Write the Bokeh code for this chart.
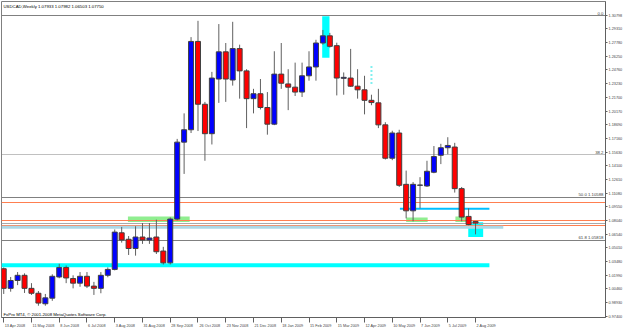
from bokeh.plotting import figure
from bokeh.models import ColumnDataSource, Range1d, FixedTicker, Label, PrintfTickFormatter
from bokeh.embed import file_html
from bokeh.resources import INLINE

chart_title = "USDCAD,Weekly  1.07933 1.07982 1.06503 1.07750"
copyright_note = "FxPro MT4, \u00a9 2001-2008 MetaQuotes Software Corp."

opens = [1.02691, 1.00515, 1.01386, 1.01962, 1.00515, 0.99971, 0.98807, 0.99427, 1.01777, 1.02833,
         1.01603, 1.01092, 1.01853, 1.00765, 1.00515, 1.01962, 1.02615, 1.06674, 1.05956, 1.04933,
         1.06206, 1.05880, 1.06206, 1.04650, 1.03344, 1.08197, 1.16728, 1.18099, 1.27893, 1.20929,
         1.17664, 1.23725, 1.26739, 1.23616, 1.27098, 1.24628, 1.21549, 1.22093, 1.20569, 1.18720,
         1.24269, 1.23181, 1.22822, 1.22278, 1.24084, 1.25064, 1.27719, 1.28513, 1.27425, 1.23801,
         1.23834, 1.22931, 1.22528, 1.21364, 1.21081, 1.18643, 1.14944, 1.17740, 1.12049, 1.09111,
         1.11940, 1.11864, 1.13388, 1.15270, 1.16108, 1.16184, 1.11571, 1.08491, 1.07933]
highs = [1.02833, 1.01777, 1.02321, 1.02180, 1.01092, 1.00221, 0.99895, 1.02071, 1.03235, 1.03050,
         1.01962, 1.02321, 1.02321, 1.01233, 1.02321, 1.02833, 1.07044, 1.07327, 1.06315, 1.07403,
         1.07762, 1.07762, 1.08132, 1.05118, 1.08382, 1.17087, 1.19917, 1.28371, 1.30178, 1.21190,
         1.24519, 1.29819, 1.27719, 1.30069, 1.27534, 1.24813, 1.22637, 1.23725, 1.22278, 1.26804,
         1.27719, 1.24813, 1.25542, 1.25542, 1.26804, 1.28078, 1.29166, 1.28839, 1.27751, 1.24454,
         1.27066, 1.24813, 1.24084, 1.21984, 1.22637, 1.18937, 1.17990, 1.18099, 1.13573, 1.12300,
         1.12844, 1.14661, 1.16293, 1.16543, 1.17272, 1.16652, 1.11756, 1.09394, 1.07982]
lows = [0.99895, 1.00145, 1.00874, 1.00004, 0.99786, 0.98589, 0.98589, 0.99133, 1.01636, 1.01092,
        1.00515, 1.00689, 1.00548, 0.99786, 0.99971, 1.01745, 1.02506, 1.05586, 1.04215, 1.04139,
        1.05444, 1.05444, 1.04323, 1.03159, 1.03159, 1.08056, 1.13203, 1.17740, 1.17958, 1.14661,
        1.16467, 1.21081, 1.21190, 1.22996, 1.21549, 1.18284, 1.19917, 1.20352, 1.17555, 1.18611,
        1.22637, 1.20276, 1.21843, 1.21734, 1.23540, 1.23540, 1.27534, 1.27207, 1.21908, 1.21984,
        1.22855, 1.21549, 1.19808, 1.20820, 1.18284, 1.14802, 1.14726, 1.11756, 1.08273, 1.07947,
        1.09394, 1.11756, 1.13279, 1.14291, 1.15379, 1.11135, 1.07947, 1.07512, 1.06503]
closes = [1.00515, 1.01386, 1.01962, 1.00515, 0.99971, 0.98883, 0.99460, 1.01853, 1.02833, 1.01668,
          1.01092, 1.01853, 1.00765, 1.00515, 1.01962, 1.02615, 1.06750, 1.05880, 1.04933, 1.06206,
          1.05880, 1.06097, 1.04574, 1.03344, 1.08197, 1.16728, 1.18099, 1.27893, 1.20929, 1.17664,
          1.23834, 1.26739, 1.23725, 1.27098, 1.24628, 1.21549, 1.22093, 1.20569, 1.18720, 1.24269,
          1.23257, 1.22822, 1.22278, 1.24084, 1.25064, 1.27719, 1.28513, 1.27349, 1.23834, 1.23910,
          1.22931, 1.22528, 1.21364, 1.21114, 1.18643, 1.14944, 1.17740, 1.11940, 1.09111, 1.12049,
          1.11973, 1.13497, 1.15129, 1.16108, 1.16358, 1.11571, 1.08415, 1.07588, 1.07750]
bars = list(range(len(opens)))

date_tick_bars = list(range(0, 69, 4))
date_tick_labels = ["13 Apr 2008", "11 May 2008", "8 Jun 2008", "6 Jul 2008", "3 Aug 2008",
                    "31 Aug 2008", "28 Sep 2008", "26 Oct 2008", "23 Nov 2008", "21 Dec 2008",
                    "18 Jan 2009", "15 Feb 2009", "15 Mar 2009", "12 Apr 2009", "10 May 2009",
                    "7 Jun 2009", "5 Jul 2009", "2 Aug 2009"]

price_tick_labels = ["1.30798", "1.29310", "1.27780", "1.26250", "1.24760", "1.23230", "1.21700",
                     "1.20170", "1.18690", "1.17160", "1.15630", "1.14100", "1.12610", "1.11080",
                     "1.09550", "1.08040", "1.06540", "1.05010", "1.03480", "1.01990", "1.00460",
                     "0.98930", "0.97400"]
price_ticks = [float(s) for s in price_tick_labels]

fib_prices = [1.30798, 1.15357, 1.10588, 1.05818]
fib_texts = ["0.0", "38.2", "50.0 1.10588", "61.8 1.05818"]
fib_dashes = ["solid", "1 1", "solid", "solid"]

hline_prices = [1.10000, 1.08000, 1.07500]
hline_labels = ["1.10000", "1.08000", "1.07500"]
bid_price = 1.07750

support_price, support_end = 1.03084, 70.0
band_price, band_end = 1.07294, 72.0
blue_line_price, blue_line_start, blue_line_end = 1.09329, 57.1, 70.0

green_left = [17.9, 58.0, 65.1]
green_right = [26.8, 61.1, 66.8]
green_top = [1.08491, 1.08382, 1.08491]
green_bottom = [1.07871, 1.07871, 1.07871]

cyan_left = [45.9, 66.95]
cyan_right = [46.95, 69.1]
cyan_top = [1.30689, 1.07838]
cyan_bottom = [1.26086, 1.06206]

marker_bar, marker_top, marker_bottom = 53, 1.25357, 1.23181

# ---- layout / style ----
BAR_PX = 6.95            # pixels per weekly bar
FRAME_W = 605            # frame width in px
X0 = -0.32
X1 = X0 + FRAME_W / BAR_PX
Y0, Y1 = 0.97283, 1.32321
FONT = "Liberation Sans"
FS = "4.3px"
AXIS_FS = 3.8

CHAR_W = {d: 0.556 for d in "0123456789"}
CHAR_W.update({" ": 0.278, "A": 0.667, "M": 0.833, "J": 0.5, "S": 0.667, "O": 0.778, "N": 0.722,
               "D": 0.722, "F": 0.611, "p": 0.556, "r": 0.333, "a": 0.556, "y": 0.5, "u": 0.556,
               "n": 0.556, "l": 0.222, "g": 0.556, "e": 0.556, "c": 0.5, "o": 0.556, "v": 0.5,
               "b": 0.556})


def text_px(s, size):
    return sum(CHAR_W.get(ch, 0.556) for ch in s) * size


label_pos = [b + (text_px(s, AXIS_FS) / 2 + 1.0) / BAR_PX for b, s in zip(date_tick_bars, date_tick_labels)]

p = figure(width=625, height=330, output_backend="svg", toolbar_location=None,
           x_range=Range1d(X0, X1), y_range=Range1d(Y0, Y1), y_axis_location="right",
           min_border_left=1, min_border_top=1, min_border_right=17, min_border_bottom=7)
p.xgrid.visible = False
p.ygrid.visible = False
p.background_fill_color = "white"
p.border_fill_color = "white"
p.outline_line_color = "#808080"

p.quad(left=green_left, right=green_right, top=green_top, bottom=green_bottom,
       fill_color="#90ee90", line_color=None)
p.quad(left=cyan_left, right=cyan_right, top=cyan_top, bottom=cyan_bottom,
       fill_color="#00ffff", line_color=None)

for pr, dash in zip(fib_prices, fib_dashes):
    p.hspan(y=[pr], line_color="#808080", line_width=1, line_dash=dash)
p.hspan(y=hline_prices, line_color="#ff7f50", line_width=1)
p.hspan(y=[bid_price], line_color="#a9a9a9", line_width=1)

p.segment(x0=[X0], y0=[band_price], x1=[band_end], y1=[band_price], line_color="#add8e6", line_width=3)
p.segment(x0=[X0], y0=[support_price], x1=[support_end], y1=[support_price], line_color="#00ffff", line_width=4)
p.segment(x0=[blue_line_start], y0=[blue_line_price], x1=[blue_line_end], y1=[blue_line_price],
          line_color="#00bfff", line_width=2)
p.segment(x0=[marker_bar], y0=[marker_bottom], x1=[marker_bar], y1=[marker_top],
          line_color="#80f0f0", line_width=2, line_dash="2 2")

src = ColumnDataSource(dict(
    x=bars, o=opens, h=highs, l=lows, c=closes,
    top=[max(o, c) for o, c in zip(opens, closes)],
    bottom=[min(o, c) for o, c in zip(opens, closes)],
    color=["#0000ff" if c >= o else "#ff0000" for o, c in zip(opens, closes)],
))
p.segment(x0="x", y0="l", x1="x", y1="h", source=src, line_color="#606060", line_width=1)
p.vbar(x="x", width=0.72, top="top", bottom="bottom", fill_color="color",
       line_color="#404040", line_width=1, source=src)

xa = p.xaxis[0]
xa.ticker = FixedTicker(ticks=label_pos, minor_ticks=date_tick_bars)
xa.major_label_overrides = {pos: s for pos, s in zip(label_pos, date_tick_labels)}
xa.major_label_text_font = FONT
xa.major_label_text_font_size = f"{AXIS_FS}px"
xa.major_label_standoff = 1
xa.major_tick_out = 0
xa.major_tick_in = 0
xa.major_tick_line_color = None
xa.minor_tick_out = 5
xa.minor_tick_in = 0
xa.minor_tick_line_color = "#606060"
xa.axis_line_color = "#606060"

ya = p.yaxis[0]
ya.ticker = FixedTicker(ticks=price_ticks)
ya.formatter = PrintfTickFormatter(format="%.5f")
ya.major_label_text_font = FONT
ya.major_label_text_font_size = f"{AXIS_FS}px"
ya.major_label_standoff = 1
ya.major_tick_out = 2
ya.major_tick_in = 0
ya.minor_tick_line_color = None
ya.axis_line_color = "#606060"
ya.major_tick_line_color = "#606060"

p.add_layout(Label(x=X0, y=Y1, x_offset=2, y_offset=-2, text=chart_title, text_font=FONT,
                   text_font_size=FS, text_baseline="top", text_color="black"))
p.add_layout(Label(x=X0, y=Y0, x_offset=2, y_offset=1, text=copyright_note, text_font=FONT,
                   text_font_size=FS, text_baseline="bottom", text_color="black"))
for pr, t in zip(fib_prices, fib_texts):
    p.add_layout(Label(x=X1, y=pr, x_offset=-2, y_offset=0.5, text=t, text_font=FONT,
                       text_font_size=FS, text_align="right", text_baseline="bottom",
                       text_color="#404040"))
for pr, t in zip(hline_prices, hline_labels):
    p.add_layout(Label(x=X1, y=pr, x_offset=2, text=t, text_font=FONT, text_font_size=f"{AXIS_FS}px",
                       text_align="left", text_baseline="middle", text_color="white",
                       background_fill_color="#ff5a1f"))

open("out.html", "w").write(file_html(p, INLINE))
